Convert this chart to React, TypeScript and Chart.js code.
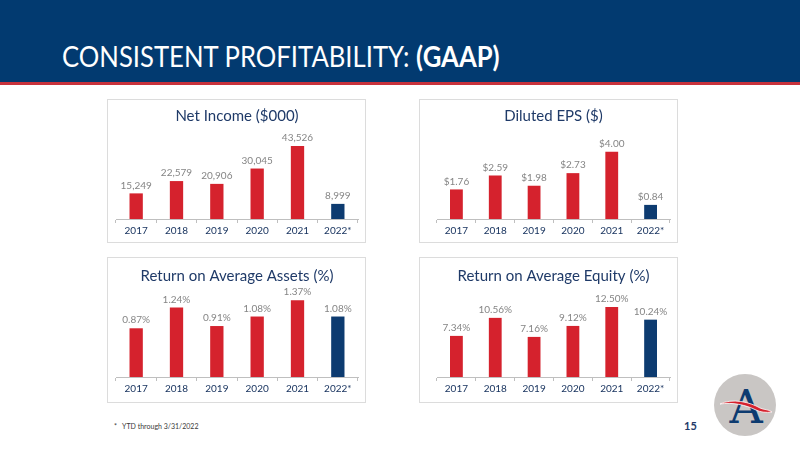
import React, { useEffect, useRef } from "react";
import { Chart, registerables } from "chart.js";

Chart.register(...registerables);

// ---- Data ----
const categories = ["2017", "2018", "2019", "2020", "2021", "2022*"];
const netIncome = [15249, 22579, 20906, 30045, 43526, 8999];
const dilutedEps = [1.76, 2.59, 1.98, 2.73, 4.0, 0.84];
const roaa = [0.87, 1.24, 0.91, 1.08, 1.37, 1.08];
const roae = [7.34, 10.56, 7.16, 9.12, 12.5, 10.24];

const chartTitles = [
  "Net Income ($000)",
  "Diluted EPS ($)",
  "Return on Average Assets (%)",
  "Return on Average Equity (%)",
];

// ---- Style ----
const RED = "#d5222d";
const NAVY = "#0d3b70";
const HEADER_BLUE = "#023a70";
const TITLE_COLOR = "#1f3a68";
const TICK_COLOR = "#1a3560";
const VALUE_COLOR = "#858585";
const AXIS_COLOR = "#bfbfbf";
const FONT = "Lato, 'Open Sans', sans-serif";

const barColors = categories.map((c) => (c.endsWith("*") ? NAVY : RED));

const fmtThousands = (v: number) => v.toLocaleString("en-US");
const fmtDollar = (v: number) => "$" + v.toFixed(2);
const fmtPct = (v: number) => v.toFixed(2) + "%";

function valueLabelPlugin(fmt: (v: number) => string) {
  return {
    id: "valueLabels",
    afterDatasetsDraw(chart: any) {
      const ctx = chart.ctx;
      const ds = chart.data.datasets[0];
      const meta = chart.getDatasetMeta(0);
      ctx.save();
      ctx.fillStyle = VALUE_COLOR;
      ctx.font = `10px ${FONT}`;
      ctx.textAlign = "center";
      ctx.textBaseline = "bottom";
      meta.data.forEach((el: any, i: number) => {
        ctx.fillText(fmt(ds.data[i] as number), el.x, el.y - 3);
      });
      ctx.restore();
    },
  };
}

type PanelProps = {
  title: string;
  values: number[];
  fmt: (v: number) => string;
  max: number;
  left: number;
  top: number;
  width: number;
  height: number;
  padLeft: number;
  padRight: number;
  padBottom: number;
  titleTop: number;
  titleBottom: number;
};

function Panel(p: PanelProps) {
  const ref = useRef<HTMLCanvasElement | null>(null);
  useEffect(() => {
    if (!ref.current) return;
    const chart = new Chart(ref.current, {
      type: "bar",
      data: {
        labels: categories,
        datasets: [
          {
            data: p.values,
            backgroundColor: barColors,
            barPercentage: 0.33,
            categoryPercentage: 1,
          },
        ],
      },
      options: {
        animation: false,
        responsive: false,
        maintainAspectRatio: false,
        layout: {
          padding: { left: p.padLeft, right: p.padRight, top: 0, bottom: p.padBottom },
        },
        plugins: {
          legend: { display: false },
          tooltip: { enabled: false },
          title: {
            display: true,
            text: p.title,
            color: TITLE_COLOR,
            font: { family: FONT, size: 15, weight: "normal" },
            padding: { top: p.titleTop, bottom: p.titleBottom },
          },
        },
        scales: {
          x: {
            grid: {
              display: true,
              drawOnChartArea: false,
              drawTicks: true,
              tickLength: 4,
              color: AXIS_COLOR,
              offset: true,
            },
            border: { display: true, color: AXIS_COLOR },
            ticks: {
              color: TICK_COLOR,
              font: { family: FONT, size: 10 },
              padding: 2,
            },
          },
          y: { display: false, min: 0, max: p.max },
        },
      },
      plugins: [valueLabelPlugin(p.fmt)],
    } as any);
    return () => chart.destroy();
  }, []);
  return (
    <>
      <div
        style={{
          position: "absolute",
          left: p.left,
          top: p.top,
          width: p.width,
          height: p.height,
          boxSizing: "border-box",
          border: "1px solid #dcdcdc",
          background: "#fff",
        }}
      />
      <canvas
        ref={ref}
        width={p.width}
        height={p.height}
        style={{ position: "absolute", left: p.left, top: p.top, width: p.width, height: p.height }}
      />
    </>
  );
}

function Logo() {
  return (
    <svg
      width={66}
      height={66}
      viewBox="0 0 66 66"
      style={{ position: "absolute", left: 712, top: 372 }}
    >
      <circle cx={33} cy={33} r={31} fill="#c9c6c4" />
      <text
        x={34}
        y={51}
        textAnchor="middle"
        fontFamily="'DejaVu Serif', 'Liberation Serif', serif"
        fontWeight="normal"
        fontSize={46}
        fill={NAVY}
      >
        A
      </text>
      <path
        d="M8 32 C 20 26, 38 30, 48 36 C 52 38, 56 37, 60 40 C 54 41, 48 40, 44 38 C 34 33, 20 30, 8 32 Z"
        fill="#d5222d"
        stroke="#fff"
        strokeWidth={0.8}
      />
    </svg>
  );
}

export default function App() {
  return (
    <div
      style={{
        position: "fixed",
        left: 0,
        top: 0,
        width: 800,
        height: 450,
        background: "#fff",
        overflow: "hidden",
        fontFamily: FONT,
      }}
    >
      <div style={{ position: "absolute", left: 0, top: 0, width: 800, height: 82, background: HEADER_BLUE }} />
      <div style={{ position: "absolute", left: 0, top: 82, width: 800, height: 3, background: "#c8323c" }} />
      <div
        style={{
          position: "absolute",
          left: 62,
          top: 38,
          fontSize: 29,
          lineHeight: "36px",
          color: "#fff",
          whiteSpace: "nowrap",
          transform: "scaleX(0.885)",
          transformOrigin: "left center",
        }}
      >
        CONSISTENT PROFITABILITY: <b>(GAAP)</b>
      </div>

      <Panel title={chartTitles[0]} values={netIncome} fmt={fmtThousands} max={50000}
        left={107} top={99} width={259} height={144} padLeft={9} padRight={8} padBottom={4}
        titleTop={8} titleBottom={10} />
      <Panel title={chartTitles[1]} values={dilutedEps} fmt={fmtDollar} max={5}
        left={419} top={99} width={259} height={144} padLeft={18} padRight={8} padBottom={4}
        titleTop={8} titleBottom={10} />
      <Panel title={chartTitles[2]} values={roaa} fmt={fmtPct} max={1.5}
        left={107} top={257} width={259} height={146} padLeft={9} padRight={8} padBottom={6}
        titleTop={10} titleBottom={8} />
      <Panel title={chartTitles[3]} values={roae} fmt={fmtPct} max={15}
        left={419} top={257} width={259} height={146} padLeft={18} padRight={8} padBottom={6}
        titleTop={10} titleBottom={8} />

      <div
        style={{
          position: "absolute",
          left: 114,
          top: 422,
          fontSize: 7,
          color: "#3a3a3a",
          whiteSpace: "nowrap",
        }}
      >
        *&nbsp;&nbsp;&nbsp;YTD through 3/31/2022
      </div>
      <div
        style={{
          position: "absolute",
          left: 684,
          top: 419,
          fontSize: 11,
          fontWeight: "bold",
          color: TITLE_COLOR,
        }}
      >
        15
      </div>
      <Logo />
    </div>
  );
}
